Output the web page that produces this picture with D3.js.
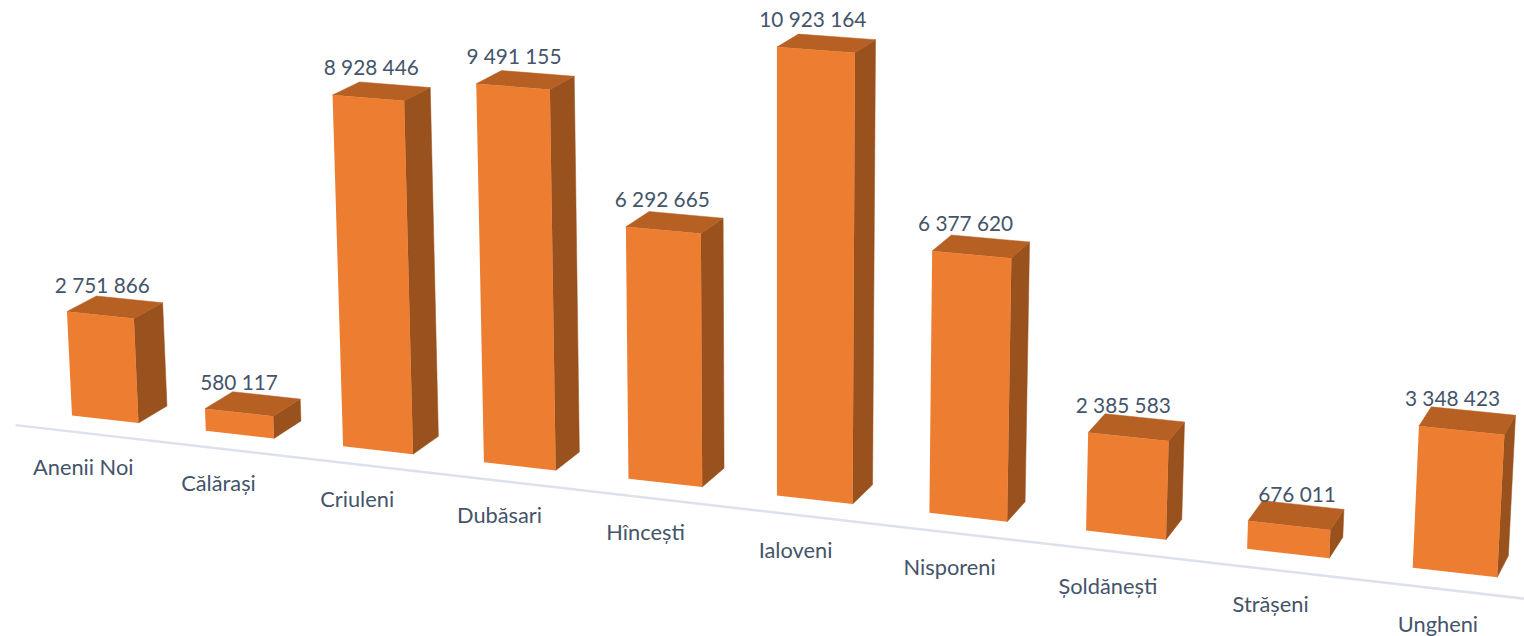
<!DOCTYPE html>
<html>
<head>
<meta charset="utf-8">
<script src="https://cdn.jsdelivr.net/npm/d3@7"></script>
<style>
    html, body { margin: 0; padding: 0; background: #fff; overflow: hidden; }
    text { font-family: Lato, "Open Sans", sans-serif; fill: #44546a; }
</style>
</head>
<body>
<div id="chart"></div>
<script>
const categories = ["Anenii Noi", "Călărași", "Criuleni", "Dubăsari", "Hîncești", "Ialoveni", "Nisporeni", "Șoldănești", "Strășeni", "Ungheni"];
const values = [2751866, 580117, 8928446, 9491155, 6292665, 10923164, 6377620, 2385583, 676011, 3348423];

// the data labels were moved by hand in the original, small shifts along x
const labelShift = [2, 0, 3, 1, -1, -3, -6, -5, 8, -9];

const width = 1524;
const height = 636;

const svg = d3
    .select("#chart")
    .append("svg")
    .attr("width", width)
    .attr("height", height);

// scales in chart space: u along the row, v height in millions, d depth 0..1
const u = d3.scaleBand().domain(categories).range([0, 1.0556]).paddingInner(0.5);
const v = d3.scaleLinear().domain([0, 1000000]).range([0, 1]);

// perspective camera fitted to the picture
function project(pu, pv, pd) {
    const w = 1 - 0.113 * pu - 0.00258 * pv + 0.0138 * pd;
    return [
        (72 + 1181 * pu - 2.005 * pv + 30.6 * pd) / w,
        (415.5 + 88 * pu - 38.6 * pv - 11.3 * pd) / w
    ];
}

const line = d3.line();

// baseline in front of the bars
svg.append("path")
    .attr("d", line([project(-0.0277, 0, -0.78), project(1.0789, 0, -0.78)]))
    .attr("fill", "none")
    .attr("stroke", "#dde1ea")
    .attr("stroke-width", 2.5);

const bars = svg
    .selectAll(".bar")
    .data(categories)
    .enter()
    .append("g")
    .attr("class", "bar");

// side face
bars.append("path")
    .attr("fill", "#99511d")
    .attr("stroke", "#99511d")
    .attr("stroke-width", 0.5)
    .attr("d", (c, i) => {
        const r = u(c) + u.bandwidth();
        const t = v(values[i]);
        return line([project(r, 0, 0), project(r, t, 0), project(r, t, 1), project(r, 0, 1)]) + "Z";
    });

// top face
bars.append("path")
    .attr("fill", "#b66024")
    .attr("stroke", "#b66024")
    .attr("stroke-width", 0.5)
    .attr("d", (c, i) => {
        const l = u(c);
        const r = l + u.bandwidth();
        const t = v(values[i]);
        return line([project(l, t, 0), project(r, t, 0), project(r, t, 1), project(l, t, 1)]) + "Z";
    });

// front face
bars.append("path")
    .attr("fill", "#ed7d31")
    .attr("d", (c, i) => {
        const l = u(c);
        const r = l + u.bandwidth();
        const t = v(values[i]);
        return line([project(l, 0, 0), project(r, 0, 0), project(r, t, 0), project(l, t, 0)]) + "Z";
    });

// data labels
const fmt = d3.formatLocale({ decimal: ",", thousands: " ", grouping: [3], currency: ["", ""] }).format(",d");

svg.selectAll(".value")
    .data(categories)
    .enter()
    .append("text")
    .attr("class", "value")
    .attr("text-anchor", "middle")
    .attr("dominant-baseline", "central")
    .attr("font-size", "20.8px")
    .attr("x", (c, i) => project(u(c) + u.bandwidth() / 2, v(values[i]), 0)[0] + labelShift[i])
    .attr("y", (c, i) => {
        const pu = u(c) + u.bandwidth() / 2;
        return project(pu, v(values[i]), 0)[1] - 30.5 - 2 * pu;
    })
    .text((c, i) => fmt(values[i]));

// category labels under the baseline
svg.selectAll(".category")
    .data(categories)
    .enter()
    .append("text")
    .attr("class", "category")
    .attr("text-anchor", "middle")
    .attr("dominant-baseline", "central")
    .attr("font-size", "21.8px")
    .attr("x", c => {
        const pu = u(c) + u.bandwidth() / 2;
        return project(pu, 0, 0)[0] - 22 + 5 * pu;
    })
    .attr("y", c => {
        const pu = u(c) + u.bandwidth() / 2;
        return project(pu, 0, 0)[1] + 47.5 + 3 * pu;
    })
    .text(c => c);
</script>
</body>
</html>
